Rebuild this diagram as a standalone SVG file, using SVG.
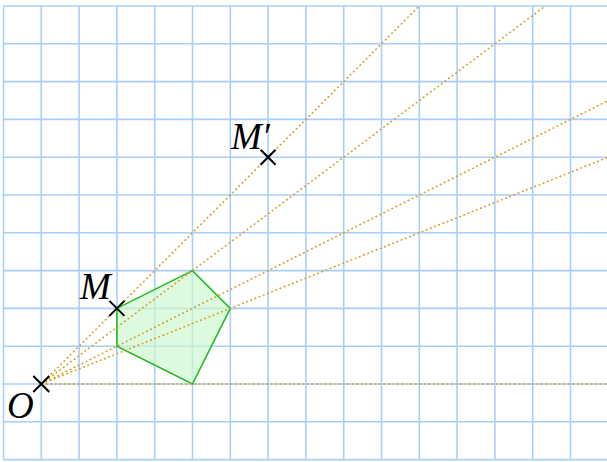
<svg xmlns="http://www.w3.org/2000/svg" width="607" height="462" viewBox="0 0 607 462">
<style>
.grid line{stroke:#a6d0fb;stroke-width:1.6}
.ray{stroke:#d4a020;stroke-width:1.5;stroke-dasharray:2 2.5;fill:none}
.cross{stroke:#000;stroke-width:2}
.lbl{font-family:"Liberation Serif",serif;font-style:italic;font-size:37px;fill:#000}
</style>
<rect width="607" height="462" fill="#fff"/>
<g class="grid" id="grid">
<line x1="3.5" y1="6" x2="3.5" y2="459.6"/>
<line x1="41.3" y1="6" x2="41.3" y2="459.6"/>
<line x1="79.1" y1="6" x2="79.1" y2="459.6"/>
<line x1="116.9" y1="6" x2="116.9" y2="459.6"/>
<line x1="154.7" y1="6" x2="154.7" y2="459.6"/>
<line x1="192.5" y1="6" x2="192.5" y2="459.6"/>
<line x1="230.3" y1="6" x2="230.3" y2="459.6"/>
<line x1="268.1" y1="6" x2="268.1" y2="459.6"/>
<line x1="305.9" y1="6" x2="305.9" y2="459.6"/>
<line x1="343.7" y1="6" x2="343.7" y2="459.6"/>
<line x1="381.5" y1="6" x2="381.5" y2="459.6"/>
<line x1="419.3" y1="6" x2="419.3" y2="459.6"/>
<line x1="457.1" y1="6" x2="457.1" y2="459.6"/>
<line x1="494.9" y1="6" x2="494.9" y2="459.6"/>
<line x1="532.7" y1="6" x2="532.7" y2="459.6"/>
<line x1="570.5" y1="6" x2="570.5" y2="459.6"/>
<line x1="3.5" y1="6" x2="607" y2="6"/>
<line x1="3.5" y1="43.8" x2="607" y2="43.8"/>
<line x1="3.5" y1="81.6" x2="607" y2="81.6"/>
<line x1="3.5" y1="119.4" x2="607" y2="119.4"/>
<line x1="3.5" y1="157.2" x2="607" y2="157.2"/>
<line x1="3.5" y1="195" x2="607" y2="195"/>
<line x1="3.5" y1="232.8" x2="607" y2="232.8"/>
<line x1="3.5" y1="270.6" x2="607" y2="270.6"/>
<line x1="3.5" y1="308.4" x2="607" y2="308.4"/>
<line x1="3.5" y1="346.2" x2="607" y2="346.2"/>
<line x1="3.5" y1="384" x2="607" y2="384"/>
<line x1="3.5" y1="421.8" x2="607" y2="421.8"/>
<line x1="3.5" y1="459.6" x2="607" y2="459.6"/>
</g>
<g id="pentagon">
<polygon points="116.9,308.4 192.5,270.6 230.3,308.4 192.5,384 116.9,346.2" fill="#ccf7cc" fill-opacity="0.65" stroke="#22bb22" stroke-width="1.6"/>
</g>
<g id="connectors">
<line class="ray" x1="41.3" y1="384" x2="419.3" y2="6"/>
<line class="ray" x1="41.3" y1="384" x2="545.3" y2="6"/>
<line class="ray" x1="41.3" y1="384" x2="607" y2="157.7"/>
<line class="ray" x1="41.3" y1="384" x2="607" y2="101.2"/>
<line class="ray" x1="41.3" y1="384" x2="607" y2="384"/>
</g>
<g id="O">
<path class="cross" d="M33.3,376 L49.3,392 M33.3,392 L49.3,376"/>
<text class="lbl" x="7" y="418">O</text>
</g>
<g id="M">
<path class="cross" d="M109.4,300.9 L124.4,315.9 M109.4,315.9 L124.4,300.9"/>
<text class="lbl" x="80" y="299">M</text>
</g>
<g id="Mprime">
<path class="cross" d="M260.6,149.7 L275.6,164.7 M260.6,164.7 L275.6,149.7"/>
<text class="lbl" x="231" y="149">M′</text>
</g>
</svg>
